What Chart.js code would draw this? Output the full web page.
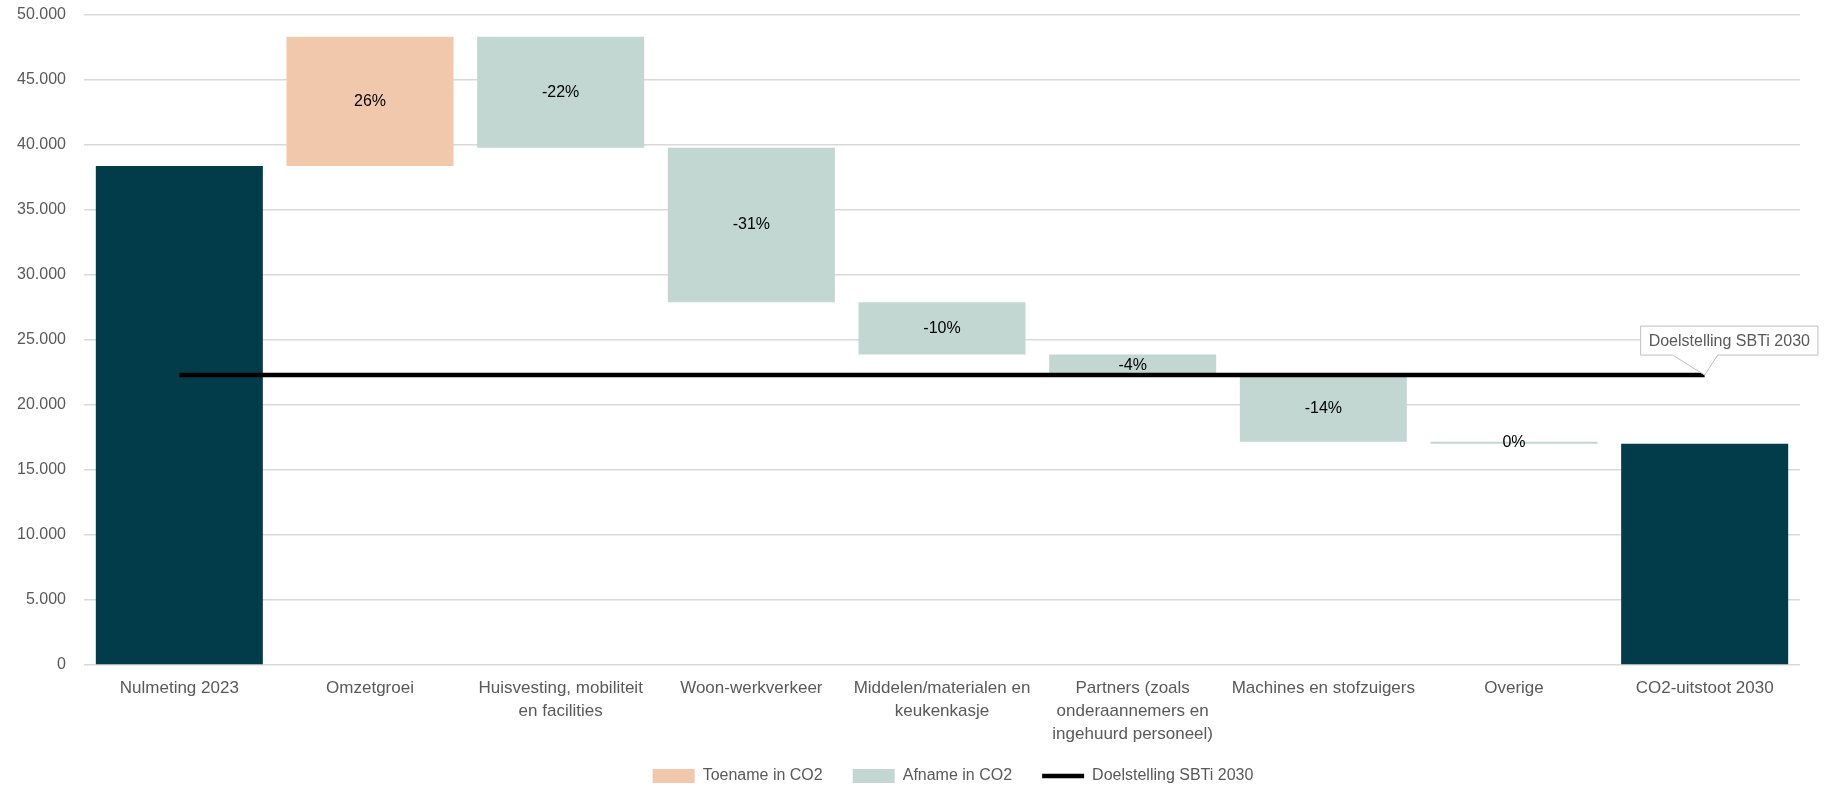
<!DOCTYPE html>
<html>
<head>
<meta charset="utf-8">
<script src="https://cdn.jsdelivr.net/npm/chart.js@4/dist/chart.umd.min.js"></script>
<style>
  html, body { margin: 0; padding: 0; background: #fff; }
  #wrap { width: 1832px; height: 795px; }
</style>
</head>
<body>
<div id="wrap"><canvas id="chart"></canvas></div>
<script>
/* ================= DATA ================= */
const categories = [
  "Nulmeting 2023",
  "Omzetgroei",
  ["Huisvesting, mobiliteit", "en facilities"],
  "Woon-werkverkeer",
  ["Middelen/materialen en", "keukenkasje"],
  ["Partners (zoals", "onderaannemers en", "ingehuurd personeel)"],
  "Machines en stofzuigers",
  "Overige",
  "CO2-uitstoot 2030"
];

// [start, end] of each floating bar
const totals   = [[0, 38380], null, null, null, null, null, null, null, [0, 17020]];
const increase = [null, [38380, 48320], null, null, null, null, null, null, null];
const decrease = [null, null, [48320, 39790], [39790, 27895], [27895, 23886],
                  [23886, 22200], [22200, 17178], [17178, 17020], null];

const pctLabels = ["", "26%", "-22%", "-31%", "-10%", "-4%", "-14%", "0%", ""];
const target = [22300, 22300, 22300, 22300, 22300, 22300, 22300, 22300, 22300];
const targetName = "Doelstelling SBTi 2030";

const yTicks = { min: 0, max: 50000, step: 5000 };

/* ================= COLORS ================= */
const DARK = "#023c4a";
const PEACH = "#f2c8ad";
const SAGE = "#c2d7d1";
const GRAY = "#595959";
const FONT = "'Liberation Sans', Arial, sans-serif";

/* ===== bar value labels ===== */
const pctPlugin = {
  id: "pctLabels",
  afterDatasetsDraw(chart) {
    const ctx = chart.ctx;
    const y = chart.scales.y;
    ctx.save();
    ctx.font = "16px " + FONT;
    ctx.fillStyle = "#000";
    ctx.textAlign = "center";
    ctx.textBaseline = "middle";
    [increase, decrease].forEach((set, di) => {
      const meta = chart.getDatasetMeta(di + 1);
      set.forEach((v, i) => {
        if (!v || !pctLabels[i]) return;
        const bar = meta.data[i];
        const cy = (y.getPixelForValue(v[0]) + y.getPixelForValue(v[1])) / 2;
        ctx.fillText(pctLabels[i], bar.x, cy);
      });
    });
    ctx.restore();
  }
};

/* ===== callout on the target line ===== */
const calloutPlugin = {
  id: "callout",
  afterDatasetsDraw(chart) {
    const meta = chart.getDatasetMeta(3);
    const pt = meta.data[meta.data.length - 1];
    if (!pt) return;
    const ctx = chart.ctx;
    ctx.save();
    ctx.font = "16px " + FONT;
    const tw = ctx.measureText(targetName).width;
    const left = pt.x - 64;
    const w = tw + 16;
    const bottom = pt.y - 20;
    const top = bottom - 29;

    ctx.beginPath();
    ctx.moveTo(left, top);
    ctx.lineTo(left + w, top);
    ctx.lineTo(left + w, bottom);
    ctx.lineTo(pt.x + 13, bottom);
    ctx.lineTo(pt.x, pt.y);
    ctx.lineTo(pt.x - 32, bottom);
    ctx.lineTo(left, bottom);
    ctx.closePath();
    ctx.fillStyle = "#fff";
    ctx.fill();
    ctx.strokeStyle = "#bfbfbf";
    ctx.lineWidth = 1;
    ctx.stroke();

    ctx.fillStyle = GRAY;
    ctx.textAlign = "left";
    ctx.textBaseline = "middle";
    ctx.fillText(targetName, left + 8, (top + bottom) / 2 + 1);
    ctx.restore();
  }
};

/* ===== legend sits a bit right of centre ===== */
const legendShift = {
  id: "legendShift",
  afterLayout(chart) {
    const lg = chart.legend;
    if (!lg) return;
    lg.left += 53;
    lg.right += 53;
    lg.top -= 9;
    lg.bottom -= 9;
  }
};

/* ================= CHART ================= */
window.addEventListener("DOMContentLoaded", () => {
  const ctx = document.getElementById("chart").getContext("2d");

  new Chart(ctx, {
    data: {
      labels: categories,
      datasets: [
        {
          type: "bar",
          label: "Totaal",
          data: totals,
          backgroundColor: DARK,
          order: 2
        },
        {
          type: "bar",
          label: "Toename in CO2",
          data: increase,
          backgroundColor: PEACH,
          order: 2
        },
        {
          type: "bar",
          label: "Afname in CO2",
          data: decrease,
          backgroundColor: SAGE,
          order: 2
        },
        {
          type: "line",
          label: targetName,
          data: target,
          borderColor: "#000",
          backgroundColor: "#000",
          borderWidth: 4.5,
          pointRadius: 0,
          order: 0
        }
      ]
    },
    options: {
      responsive: true,
      maintainAspectRatio: false,
      animation: false,
      datasets: {
        bar: {
          barPercentage: 0.876,
          categoryPercentage: 1,
          borderSkipped: false
        }
      },
      layout: {
        padding: { left: 0, right: 32, top: 15, bottom: -8 }
      },
      scales: {
        x: {
          stacked: true,
          afterFit(scale) { scale.height = 82; },
          grid: { display: false, drawTicks: false },
          border: { display: false },
          ticks: {
            color: GRAY,
            font: { family: FONT, size: 17, lineHeight: 1.35 },
            maxRotation: 0,
            autoSkip: false,
            padding: 12
          }
        },
        y: {
          stacked: false,
          min: yTicks.min,
          max: yTicks.max,
          afterFit(scale) {
            scale.width = 84;
            scale.paddingTop = 0;
            scale.paddingBottom = 0;
          },
          grid: {
            color: "#d9d9d9",
            lineWidth: 1.5,
            drawTicks: false
          },
          border: { display: false },
          ticks: {
            stepSize: yTicks.step,
            color: GRAY,
            padding: 18,
            font: { family: FONT, size: 16 },
            callback: (v) => v.toLocaleString("nl-NL")
          }
        }
      },
      plugins: {
        tooltip: { enabled: false },
        legend: {
          position: "bottom",
          labels: {
            filter: (item) => item.datasetIndex !== 0,
            usePointStyle: true,
            pointStyleWidth: 42,
            boxHeight: 14,
            padding: 30,
            color: GRAY,
            font: { family: FONT, size: 16 },
            generateLabels(chart) {
              return chart.data.datasets.map((ds, i) => ({
                text: ds.label,
                datasetIndex: i,
                fillStyle: ds.type === "line" ? "#000" : ds.backgroundColor,
                strokeStyle: ds.type === "line" ? "#000" : ds.backgroundColor,
                lineWidth: ds.type === "line" ? 4.5 : 0,
                pointStyle: ds.type === "line" ? "line" : "rect",
                fontColor: GRAY,
                hidden: false
              }));
            }
          }
        }
      }
    },
    plugins: [pctPlugin, calloutPlugin, legendShift]
  });
});
</script>
</body>
</html>
